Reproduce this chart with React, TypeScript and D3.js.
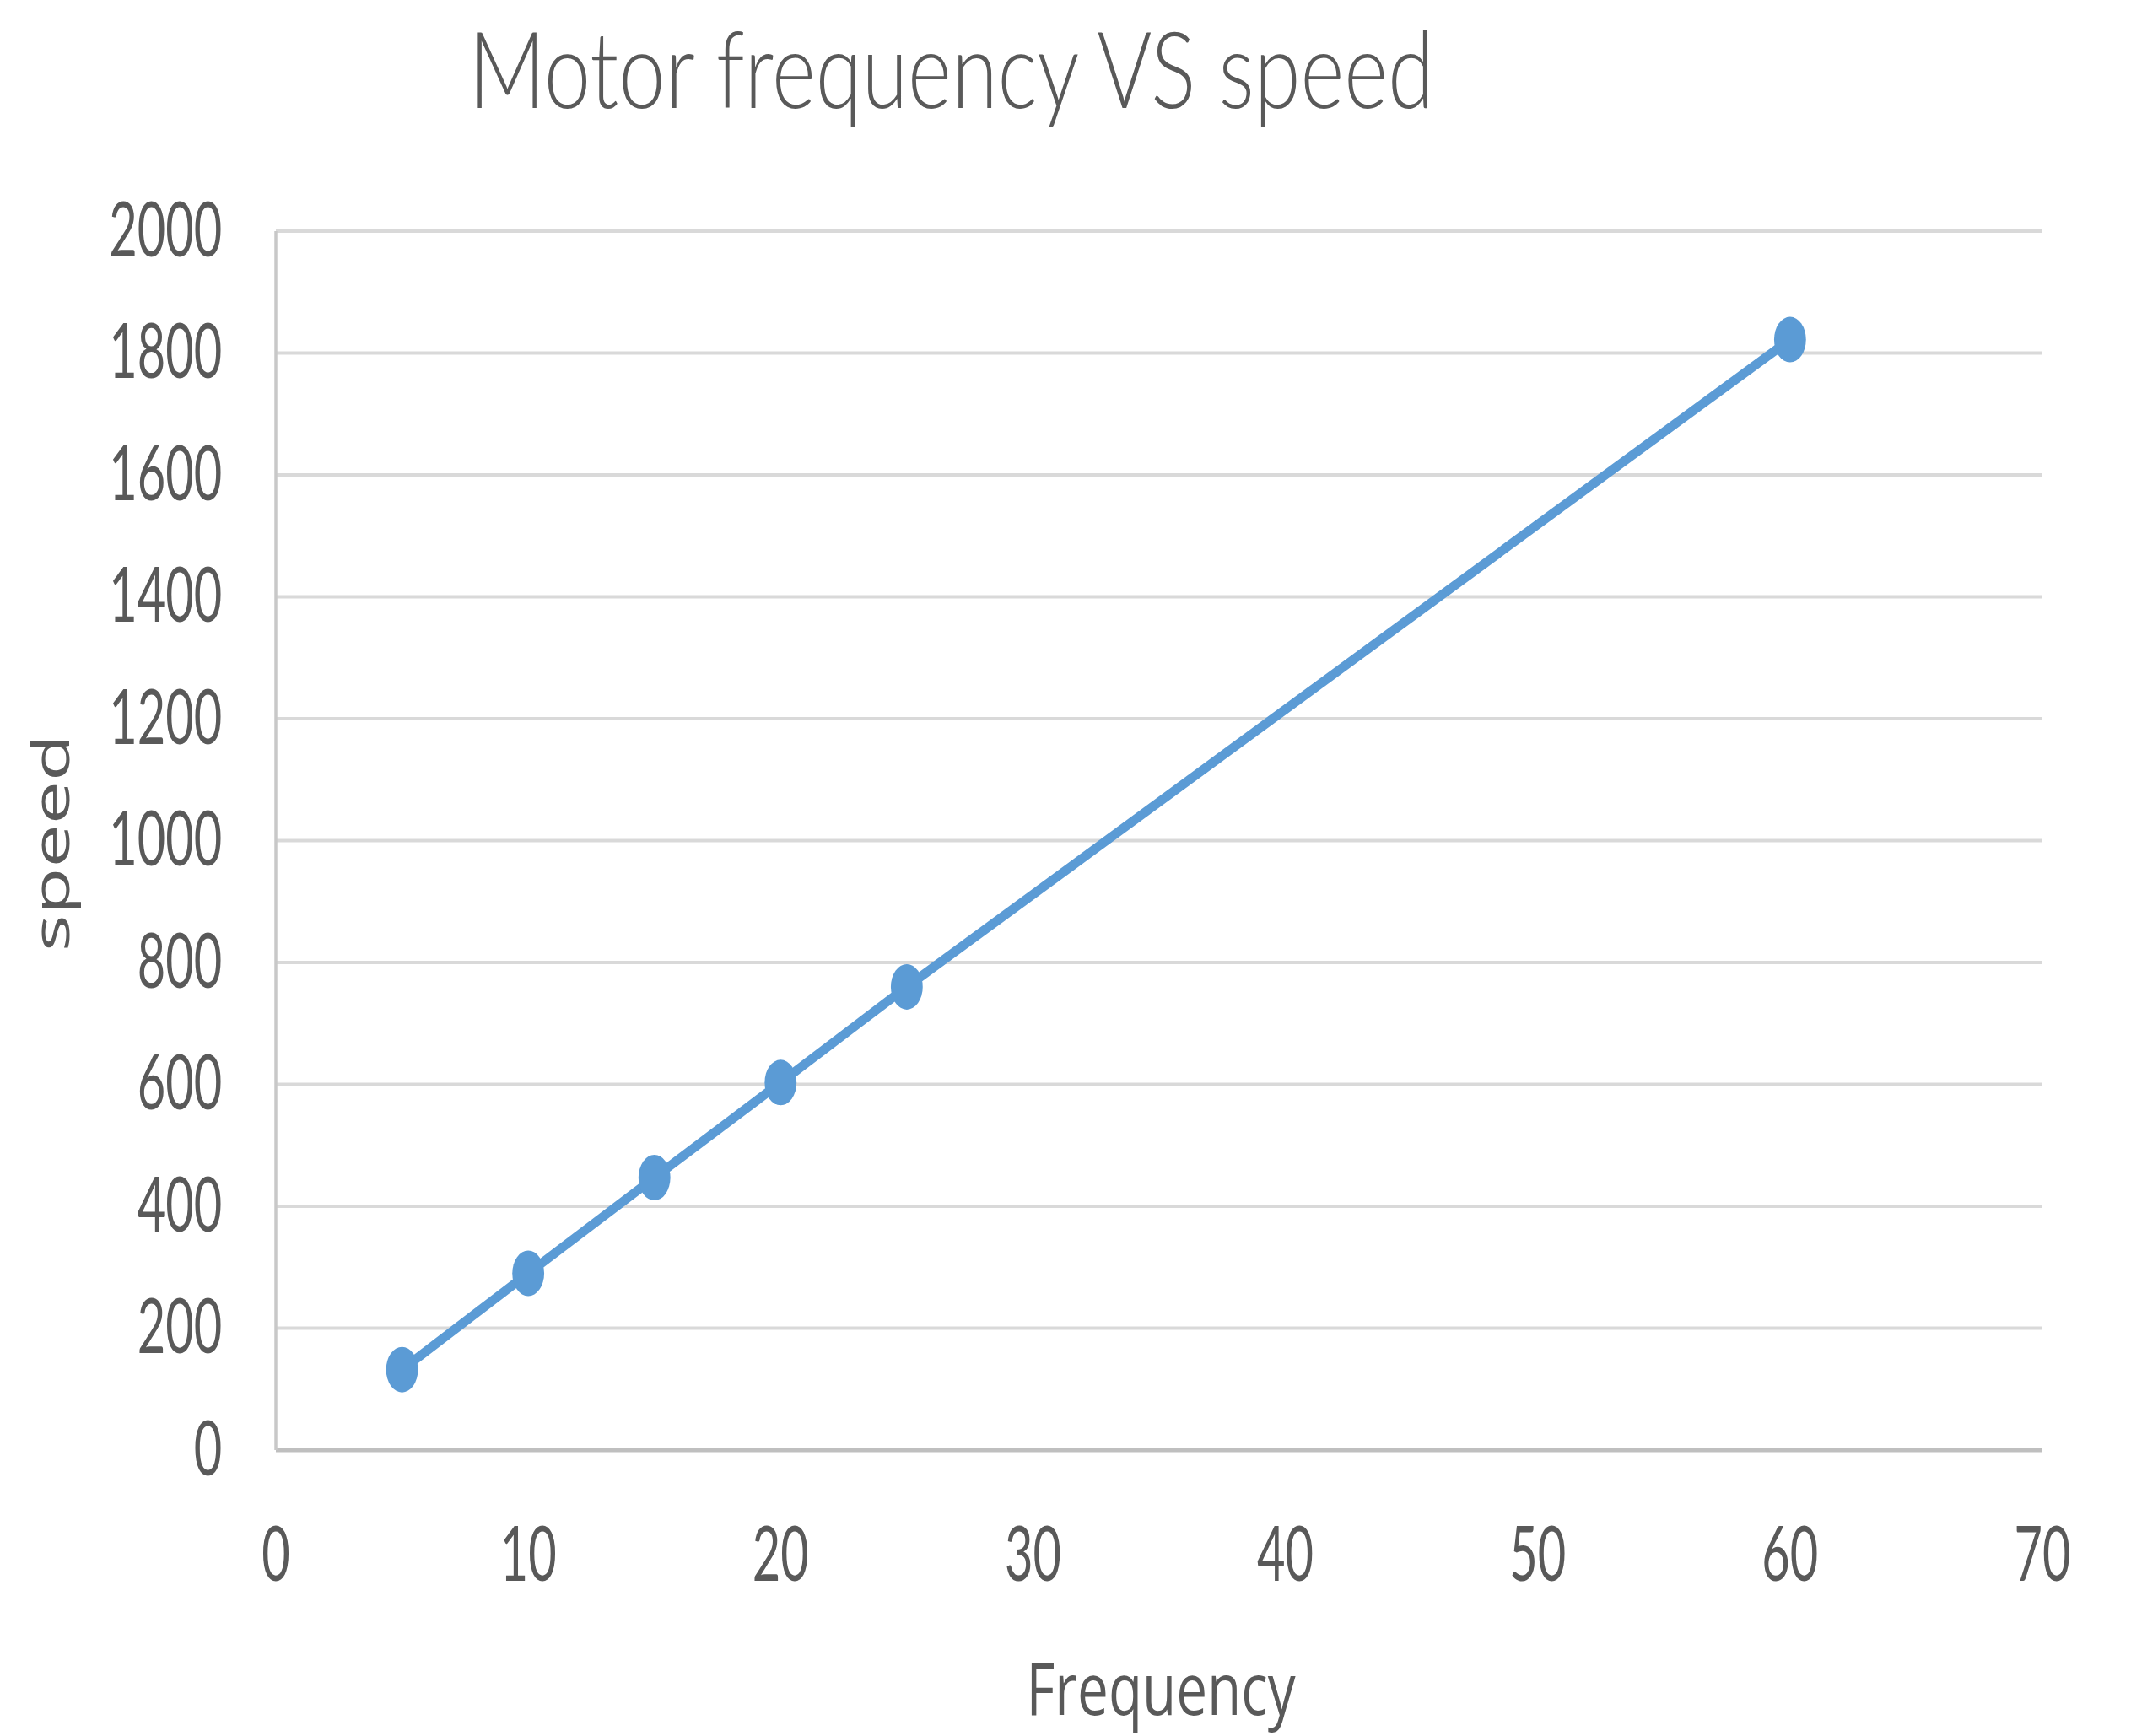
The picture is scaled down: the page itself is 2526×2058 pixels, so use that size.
import React from "react";
import * as d3 from "d3";

const frequency = [5, 10, 15, 20, 25, 60];
const speed = [132, 290, 447, 603, 760, 1822];
const xTicks = [0, 10, 20, 30, 40, 50, 60, 70];
const yTicks = [0, 200, 400, 600, 800, 1000, 1200, 1400, 1600, 1800, 2000];
const title = "Motor frequency VS speed";
const xTitle = "Frequency";
const yTitle = "speed";

const W = 2526;
const H = 2058;
const SX = 0.7; // horizontal squeeze of the whole picture

export default function App() {
  const left = 327 / SX;
  const right = 2421 / SX;
  const top = 274;
  const bottom = 1719;
  const x = d3.scaleLinear().domain([0, 70]).range([left, right]);
  const y = d3.scaleLinear().domain([0, 2000]).range([bottom, top]);
  const pts = frequency.map((f, i) => [f, speed[i]] as [number, number]);
  const line = d3
    .line<[number, number]>()
    .x((d) => x(d[0]))
    .y((d) => y(d[1]));
  const digitW = 33.5 / SX;
  const textColor = "#595959";

  return (
    <svg
      width={W}
      height={H}
      style={{ position: "absolute", left: 0, top: 0, background: "#fff" }}
    >
      <rect x={0} y={0} width={W} height={H} fill="#fff" />
      <g transform={`scale(${SX},1)`}>
        {/* gridlines */}
        {yTicks.map((t) => (
          <line
            key={"g" + t}
            x1={left}
            x2={right}
            y1={y(t)}
            y2={y(t)}
            stroke={t === 0 ? "#bfbfbf" : "#d9d9d9"}
            strokeWidth={t === 0 ? 5 : 4}
          />
        ))}
        {/* y axis line */}
        <line
          x1={left}
          x2={left}
          y1={y(2000)}
          y2={y(0)}
          stroke="#c8c8c8"
          strokeWidth={5}
        />
        {/* y tick labels */}
        {yTicks.map((t) => (
          <text
            key={"yl" + t}
            x={376 - String(t).length * digitW}
            y={y(t) + 30}
            fontFamily="Lato, Carlito, 'Open Sans', sans-serif"
            fontSize={92}
            fill={textColor}
            textLength={String(t).length * digitW}
            lengthAdjust="spacingAndGlyphs"
          >
            {t}
          </text>
        ))}
        {/* x tick labels */}
        {xTicks.map((t) => (
          <text
            key={"xl" + t}
            x={x(t) - (String(t).length * digitW) / 2}
            y={1874}
            fontFamily="Lato, Carlito, 'Open Sans', sans-serif"
            fontSize={92}
            fill={textColor}
            textLength={String(t).length * digitW}
            lengthAdjust="spacingAndGlyphs"
          >
            {t}
          </text>
        ))}
        {/* series line */}
        <path
          d={line(pts) || ""}
          fill="none"
          stroke="#5B9BD5"
          strokeWidth={12}
          strokeLinejoin="round"
        />
        {pts.map((d, i) => (
          <circle key={"m" + i} cx={x(d[0])} cy={y(d[1])} r={27} fill="#5B9BD5" />
        ))}
        {/* title */}
        <text
          x={1128 / SX - 1634 / 2}
          y={128}
          fontFamily="Lato, Carlito, 'Open Sans', sans-serif"
          fontSize={126}
          fontWeight={300}
          fill={textColor}
          textLength={1634}
          lengthAdjust="spacingAndGlyphs"
        >
          {title}
        </text>
        {/* x axis title */}
        <text
          x={1376 / SX - 456 / 2}
          y={2033}
          fontFamily="'Open Sans', 'DejaVu Sans', sans-serif"
          fontSize={86}
          fill={textColor}
          textLength={456}
          lengthAdjust="spacingAndGlyphs"
        >
          {xTitle}
        </text>
        {/* y axis title */}
        <text
          transform={`translate(${82 / SX},${999 + 129}) rotate(-90)`}
          x={0}
          y={0}
          fontFamily="'Open Sans', 'DejaVu Sans', sans-serif"
          fontSize={86}
          fill={textColor}
          textLength={258}
          lengthAdjust="spacingAndGlyphs"
        >
          {yTitle}
        </text>
      </g>
    </svg>
  );
}
